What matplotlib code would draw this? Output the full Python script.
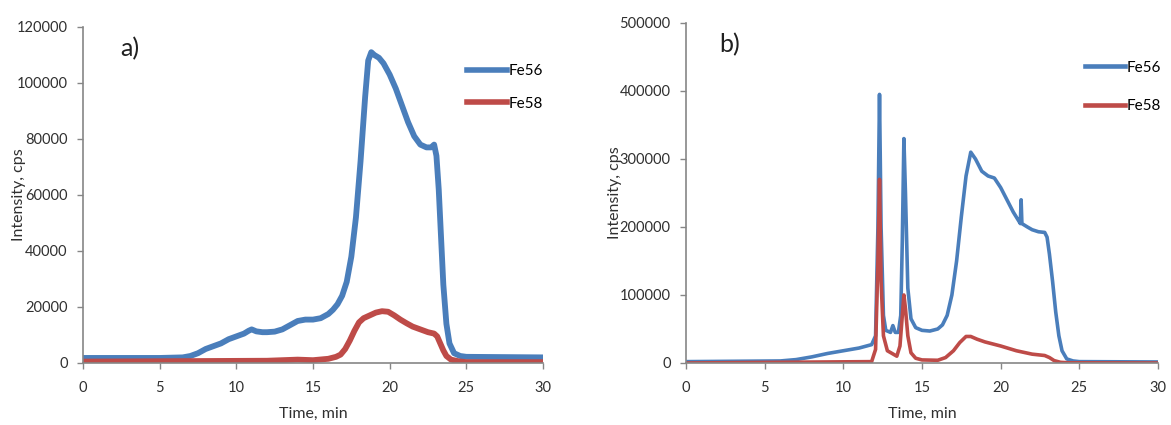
import matplotlib
matplotlib.use("Agg")
import matplotlib.pyplot as plt

# ---- Panel a data ----
a_t56 = [0, 5, 6.5, 7, 7.5, 8, 8.5, 9, 9.5, 10, 10.5, 10.8, 11, 11.3, 11.7, 12, 12.5, 13, 13.5, 14,
         14.5, 15, 15.5, 16, 16.3, 16.6, 16.9, 17.2, 17.5, 17.8, 18.1, 18.4, 18.6, 18.8, 19, 19.3,
         19.6, 20, 20.4, 20.8, 21.2, 21.6, 22, 22.4, 22.7, 22.9, 23.05, 23.2, 23.35, 23.5, 23.7,
         23.9, 24.2, 24.6, 25, 30]
a_fe56 = [1800, 1800, 2000, 2500, 3500, 5000, 6000, 7000, 8500, 9500, 10500, 11500, 12000, 11300,
          11000, 11000, 11200, 12000, 13500, 15000, 15500, 15500, 16000, 17500, 19000, 21000, 24000,
          29000, 38000, 52000, 72000, 95000, 108000, 111000, 110000, 109000, 107000, 103000, 98000,
          92000, 86000, 81000, 78000, 77000, 77000, 78000, 74000, 62000, 45000, 28000, 14000, 7000,
          3500, 2500, 2200, 2000]
a_t58 = [0, 12, 14, 15, 16, 16.5, 16.8, 17.1, 17.4, 17.7, 18, 18.3, 18.7, 19.1, 19.5, 19.9, 20.3,
         20.7, 21.1, 21.5, 22, 22.5, 22.9, 23.1, 23.3, 23.5, 23.7, 24, 24.5, 25, 30]
a_fe58 = [500, 800, 1200, 1000, 1500, 2200, 3000, 5000, 8000, 11500, 14500, 16000, 17000, 18000,
          18500, 18300, 17000, 15500, 14200, 13000, 12000, 11000, 10500, 9500, 7000, 4500, 2500,
          1200, 600, 300, 300]

# ---- Panel b data ----
b_t56 = [0, 6, 7, 8, 9, 10, 11, 11.8, 12.05, 12.2, 12.3, 12.4, 12.55, 12.7, 13, 13.15, 13.3,
         13.5, 13.65, 13.75, 13.85, 13.95, 14.1, 14.3, 14.6, 15, 15.5, 16, 16.3, 16.6, 16.9, 17.2,
         17.5, 17.8, 18.1, 18.4, 18.8, 19.2, 19.6, 20, 20.4, 20.8, 21.2, 21.25, 21.3, 21.35, 21.7,
         22, 22.4, 22.8, 22.95, 23.1, 23.3, 23.5, 23.7, 23.9, 24.2, 24.6, 25, 30]
b_fe56 = [2000, 3000, 5000, 9000, 14000, 18000, 22000, 27000, 40000, 200000, 395000, 200000, 70000,
          48000, 45000, 55000, 45000, 45000, 70000, 180000, 330000, 250000, 110000, 65000, 52000,
          48000, 47000, 50000, 56000, 70000, 100000, 150000, 215000, 275000, 310000, 300000, 282000,
          275000, 272000, 258000, 240000, 222000, 207000, 205000, 240000, 205000, 200000, 196000,
          193000, 192000, 185000, 160000, 120000, 75000, 40000, 18000, 6000, 3000, 2000, 1500]
b_t58 = [0, 11.8, 12.05, 12.2, 12.3, 12.4, 12.55, 12.8, 13.1, 13.4, 13.6, 13.75, 13.85, 13.95,
         14.1, 14.3, 14.6, 15, 16, 16.5, 17, 17.4, 17.8, 18.1, 18.5, 19, 20, 21, 22, 22.8, 23.1,
         23.4, 23.8, 24.3, 30]
b_fe58 = [0, 2000, 20000, 150000, 270000, 120000, 40000, 18000, 14000, 10000, 25000, 70000, 100000,
          80000, 40000, 15000, 7000, 4500, 4000, 8000, 18000, 30000, 39000, 39000, 35000, 31000,
          25000, 18000, 13000, 11000, 8000, 3500, 1000, 300, 0]

xticks = [0, 5, 10, 15, 20, 25, 30]
a_yticks = [0, 20000, 40000, 60000, 80000, 100000, 120000]
b_yticks = [0, 100000, 200000, 300000, 400000, 500000]

BLUE = "#4a7ebb"
RED = "#be4b48"
GRAY = "#868686"
TXT = "#303030"
FONT = "Lato"

fig = plt.figure(figsize=(11.71, 4.25), dpi=100)
axa = fig.add_axes([0.0709, 0.1459, 0.3928, 0.7906])
axb = fig.add_axes([0.5858, 0.1459, 0.4031, 0.8000])


def style(ax, yticks, ymax, lw, lab, labpos, legpos, legsp, xlab_y, ylab_x):
    ax.set_xlim(0, 30)
    ax.set_ylim(0, ymax)
    ax.set_xticks(xticks)
    ax.set_yticks(yticks)
    ax.set_xticklabels([str(v) for v in xticks], fontsize=10.5, family=FONT, color=TXT)
    ax.set_yticklabels([str(v) for v in yticks], fontsize=10.5, family=FONT, color=TXT)
    for s in ["top", "right"]:
        ax.spines[s].set_visible(False)
    for s in ["left", "bottom"]:
        ax.spines[s].set_color(GRAY)
        ax.spines[s].set_linewidth(1.2)
    ax.tick_params(axis="both", direction="out", length=4, color=GRAY, width=1)
    ax.tick_params(axis="y", pad=7)
    ax.tick_params(axis="x", pad=9)
    ax.set_xlabel("Time, min", fontsize=11.5, family=FONT, color=TXT)
    ax.set_ylabel("Intensity, cps", fontsize=11.5, family=FONT, color=TXT)
    ax.xaxis.set_label_coords(0.5, xlab_y)
    ax.yaxis.set_label_coords(ylab_x, 0.5)
    ax.text(labpos, 0.935, lab, transform=ax.transAxes, fontsize=18, family=FONT, color="#202020",
            va="center")
    leg = ax.legend(loc="upper right", bbox_to_anchor=legpos, frameon=False,
                    prop={"family": FONT, "size": 11}, handlelength=2.6, handletextpad=0.1,
                    labelspacing=legsp)
    for line in leg.get_lines():
        line.set_linewidth(lw + 0.5)


axa.plot(a_t56, a_fe56, color=BLUE, lw=4.2, label="Fe56", solid_joinstyle="round")
axa.plot(a_t58, a_fe58, color=RED, lw=4.2, label="Fe58", solid_joinstyle="round")
style(axa, a_yticks, 120000, 3.5, "a)", 0.08, (1.03, 0.93), 1.2, -0.13, -0.125)

axb.plot(b_t56, b_fe56, color=BLUE, lw=2.6, label="Fe56", solid_joinstyle="round")
axb.plot(b_t58, b_fe58, color=RED, lw=2.6, label="Fe58", solid_joinstyle="round")
style(axb, b_yticks, 500000, 2.8, "b)", 0.07, (1.035, 0.93), 1.6, -0.13, -0.135)

fig.savefig("out.png", dpi=100)
